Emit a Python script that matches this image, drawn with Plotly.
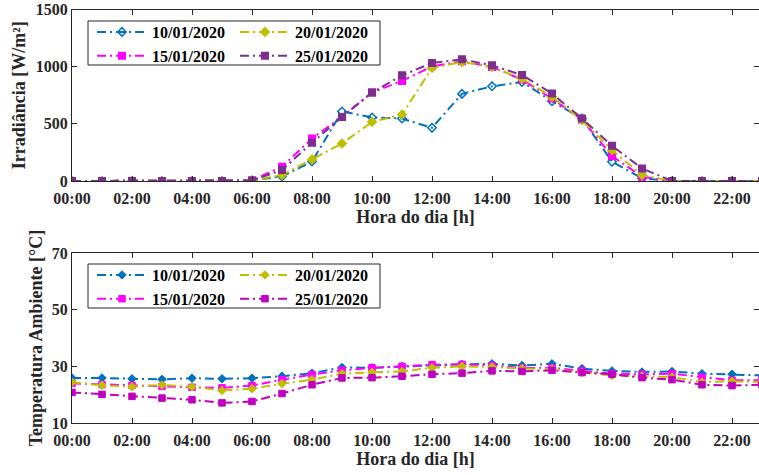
import plotly.graph_objects as go

# Hour of day (0..23) and tick labels
hours = list(range(24))
tick_hours = list(range(0, 24, 2))
tick_labels = [f"{h:02d}:00" for h in tick_hours]

dates = ["10/01/2020", "15/01/2020", "20/01/2020", "25/01/2020"]

# Irradiance [W/m²]
irr_10 = [0, 0, 0, 0, 0, 0, 5, 40, 170, 608, 556, 546, 465, 762, 828, 866, 698, 547, 169, 23, 0, 0, 0, 0]
irr_15 = [0, 0, 0, 0, 0, 0, 5, 125, 372, 560, 775, 875, 1003, 1047, 997, 887, 721, 538, 218, 38, 0, 0, 0, 0]
irr_20 = [0, 0, 0, 0, 0, 0, 5, 52, 189, 328, 517, 581, 988, 1040, 997, 895, 735, 532, 270, 52, 0, 0, 0, 0]
irr_25 = [0, 0, 0, 0, 0, 0, 5, 96, 334, 560, 773, 924, 1032, 1064, 1012, 927, 765, 547, 308, 110, 0, 0, 0, 0]

# Ambient temperature [°C]
tmp_10 = [25.9, 25.9, 25.6, 25.4, 25.8, 25.6, 25.8, 26.5, 27.6, 29.6, 29.5, 30.0,
          30.3, 30.7, 30.9, 30.3, 30.9, 29.2, 28.4, 28.0, 28.2, 27.4, 27.2, 26.8]
tmp_15 = [24.0, 23.6, 23.3, 22.9, 22.6, 22.4, 23.2, 25.3, 27.1, 28.6, 29.5, 30.0,
          30.6, 30.7, 30.3, 29.4, 29.5, 28.4, 27.4, 27.2, 27.4, 26.2, 25.1, 25.1]
tmp_20 = [24.4, 23.3, 22.8, 23.4, 22.8, 21.5, 22.1, 23.9, 25.3, 27.4, 27.9, 28.2,
          29.5, 30.0, 29.8, 29.2, 29.1, 27.8, 26.8, 26.5, 26.2, 24.5, 24.7, 24.5]
tmp_25 = [20.8, 20.1, 19.4, 18.8, 18.2, 17.1, 17.6, 20.4, 23.5, 25.9, 26.0, 26.5,
          27.2, 27.6, 28.4, 28.2, 28.6, 27.8, 27.2, 26.0, 25.3, 23.5, 23.2, 23.5]

DASH = "9px,4px,2px,4px"
FONT = "Liberation Serif, Times New Roman, serif"
AXC = "#262626"

# colour, marker symbol, legend column (left / right) per date
top_styles = {
    "10/01/2020": dict(color="#0072BD", symbol="diamond-open", col=0),
    "15/01/2020": dict(color="#FF00FF", symbol="square", col=0),
    "20/01/2020": dict(color="#BFBF00", symbol="diamond", col=1),
    "25/01/2020": dict(color="#7E2F8E", symbol="square", col=1),
}
bot_styles = {
    "10/01/2020": dict(color="#0072BD", symbol="diamond", col=0),
    "15/01/2020": dict(color="#FF00FF", symbol="square", col=0),
    "20/01/2020": dict(color="#BFBF00", symbol="diamond", col=1),
    "25/01/2020": dict(color="#BF00BF", symbol="square", col=1),
}

irr = {"10/01/2020": irr_10, "15/01/2020": irr_15, "20/01/2020": irr_20, "25/01/2020": irr_25}
tmp = {"10/01/2020": tmp_10, "15/01/2020": tmp_15, "20/01/2020": tmp_20, "25/01/2020": tmp_25}

top_legends = ["legend", "legend2"]
bot_legends = ["legend3", "legend4"]

fig = go.Figure()

for d in dates:
    s = top_styles[d]
    fig.add_trace(go.Scatter(
        x=hours, y=irr[d], name=d, mode="lines+markers",
        line=dict(color=s["color"], width=2, dash=DASH),
        marker=dict(symbol=s["symbol"], size=6.5, color=s["color"],
                    line=dict(color=s["color"], width=1.5)),
        xaxis="x", yaxis="y", legend=top_legends[s["col"]],
    ))

for d in dates:
    s = bot_styles[d]
    fig.add_trace(go.Scatter(
        x=hours, y=tmp[d], name=d, mode="lines+markers",
        line=dict(color=s["color"], width=2, dash=DASH),
        marker=dict(symbol=s["symbol"], size=6.5, color=s["color"],
                    line=dict(color=s["color"], width=1)),
        xaxis="x2", yaxis="y2", legend=bot_legends[s["col"]],
    ))

W, H = 759, 475
x0 = 72 / W


def px_(pix):
    return pix / W


def py(pix):
    return (H - pix) / H


tickfont = dict(family=FONT, size=16, color=AXC, weight="bold")
titlefont = dict(family=FONT, size=18, color=AXC, weight="bold")

xcommon = dict(
    range=[0, 22.9], tickmode="array", tickvals=tick_hours, ticktext=tick_labels,
    ticks="inside", ticklen=5, tickcolor=AXC, showline=True, linecolor=AXC,
    linewidth=1, mirror="ticks", showgrid=False, zeroline=False,
    tickfont=tickfont, domain=[x0, 1], automargin=False, ticklabelstandoff=3,
)
ycommon = dict(
    ticks="inside", ticklen=5, tickcolor=AXC, showline=True, linecolor=AXC,
    linewidth=1, mirror="ticks", showgrid=False, zeroline=False,
    tickfont=tickfont, automargin=False,
)

legend_common = dict(
    orientation="v", font=dict(family=FONT, size=16, color="black", weight="bold"),
    bgcolor="rgba(0,0,0,0)", borderwidth=0, xanchor="left", yanchor="top",
    tracegroupgap=0, itemwidth=50,
)

# legend frames
boxes = [(88, 21, 380, 65), (88, 264, 380, 308)]
shapes = [
    dict(type="rect", xref="paper", yref="paper",
         x0=px_(a), x1=px_(c), y0=py(d), y1=py(b),
         line=dict(color=AXC, width=1), fillcolor="white", layer="above")
    for a, b, c, d in boxes
]

col_x = [92, 235]

fig.update_layout(
    width=W, height=H, margin=dict(l=0, r=0, t=0, b=0),
    paper_bgcolor="white", plot_bgcolor="white",
    font=dict(family=FONT, color=AXC),
    xaxis=dict(**xcommon, anchor="y",
               title=dict(text="Hora do dia [h]", font=titlefont, standoff=1)),
    yaxis=dict(**ycommon, range=[0, 1500], tickvals=[0, 500, 1000, 1500],
               domain=[py(181), py(9.5)], anchor="x",
               title=dict(text="Irradiância [W/m²]", font=titlefont, standoff=5)),
    xaxis2=dict(**xcommon, anchor="y2",
                title=dict(text="Hora do dia [h]", font=titlefont, standoff=1)),
    yaxis2=dict(**ycommon, range=[10, 70], tickvals=[10, 30, 50, 70],
                domain=[py(423), py(253)], anchor="x2",
                title=dict(text="Temperatura Ambiente [°C]", font=titlefont, standoff=4)),
    legend=dict(**legend_common, x=px_(col_x[0]), y=py(15)),
    legend2=dict(**legend_common, x=px_(col_x[1]), y=py(15)),
    legend3=dict(**legend_common, x=px_(col_x[0]), y=py(258)),
    legend4=dict(**legend_common, x=px_(col_x[1]), y=py(258)),
    shapes=shapes,
    showlegend=True,
)

fig.write_html("out.html")
